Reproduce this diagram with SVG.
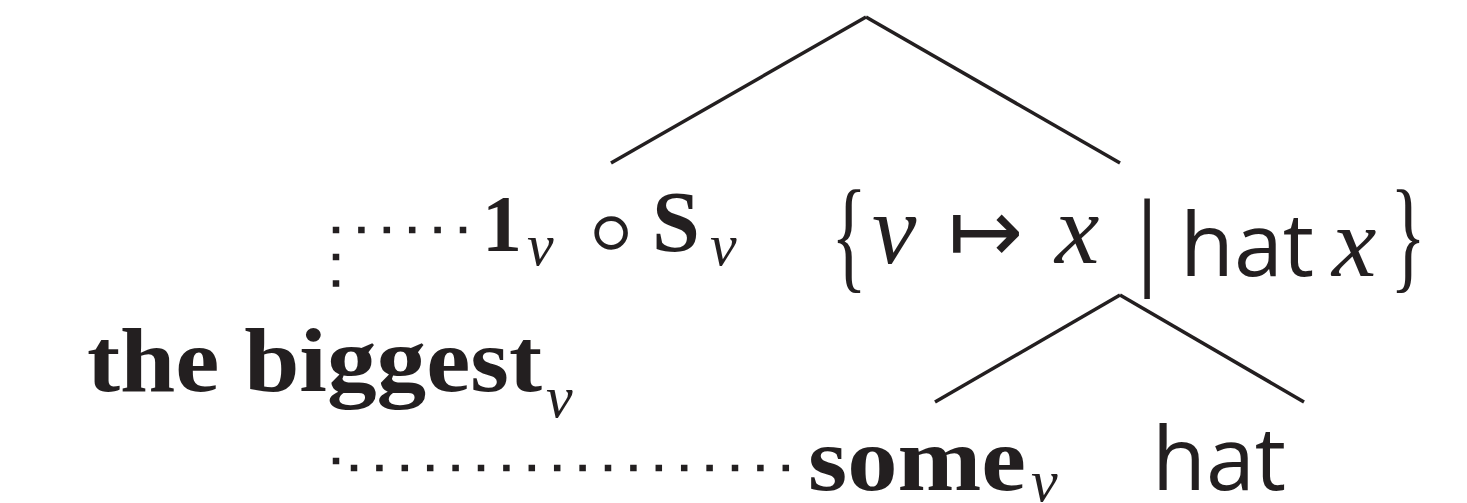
<svg xmlns="http://www.w3.org/2000/svg" width="1467" height="503" viewBox="0 0 1467 503">
<style>
.edge{stroke:#231f20;stroke-width:3.5;fill:none;stroke-linecap:butt}
.dot{stroke:#231f20;stroke-width:6.5;fill:none;stroke-dasharray:6.5 18.9}
.dotv{stroke:#231f20;stroke-width:6.5;fill:none;stroke-dasharray:6.5 20}
text{fill:#231f20}
.b{font-family:"Liberation Serif",serif;font-weight:bold}
.i{font-family:"Liberation Serif",serif;font-style:italic}
.s{font-family:"Open Sans",sans-serif}
.m{font-family:"DejaVu Sans",sans-serif}
.r{font-family:"Liberation Serif",serif}
</style>
<rect width="1467" height="503" fill="#ffffff"/>
<g id="connectors">
<line class="edge" x1="866" y1="17" x2="611" y2="163"/>
<line class="edge" x1="866" y1="17" x2="1120" y2="163"/>
<line class="edge" x1="1120" y1="295" x2="935" y2="402"/>
<line class="edge" x1="1120" y1="295" x2="1304" y2="402"/>
<line class="dot" x1="332.75" y1="230" x2="470" y2="230"/>
<line class="dotv" x1="336" y1="253.75" x2="336" y2="290"/>
<rect x="332.75" y="457.75" width="6.5" height="6.5" fill="#231f20"/>
<line class="dot" x1="350.75" y1="468" x2="800" y2="468"/>
</g>
<g id="node-1S">
<text class="b" x="482" y="251" font-size="80">1</text>
<text class="i" x="527" y="265" font-size="60">ν</text>
<text class="m" x="572" y="272" font-size="125" font-weight="200">∘</text>
<text class="b" x="652" y="251" font-size="86">S</text>
<text class="i" x="710" y="265" font-size="60">ν</text>
</g>
<g id="node-set">
<text class="r" x="831" y="276" font-size="124" textLength="36" lengthAdjust="spacingAndGlyphs">{</text>
<text class="i" x="872" y="263" font-size="100">ν</text>
<text class="m" x="948" y="262" font-size="90">↦</text>
<text class="i" x="1055" y="263" font-size="100">x</text>
<text class="r" x="1136" y="276" font-size="111">|</text>
<text class="s" x="1180" y="276" font-size="88">hat</text>
<text class="i" x="1332" y="276" font-size="100">x</text>
<text class="r" x="1390" y="276" font-size="124" textLength="36" lengthAdjust="spacingAndGlyphs">}</text>
</g>
<g id="node-thebiggest">
<text class="b" x="87" y="391" font-size="92" textLength="455" lengthAdjust="spacingAndGlyphs">the biggest</text>
<text class="i" x="546" y="417" font-size="60">ν</text>
</g>
<g id="node-some">
<text class="b" x="808" y="490" font-size="92" textLength="218" lengthAdjust="spacingAndGlyphs">some</text>
<text class="i" x="1031" y="501" font-size="60">ν</text>
</g>
<g id="node-hat">
<text class="s" x="1152" y="490" font-size="88">hat</text>
</g>
</svg>
